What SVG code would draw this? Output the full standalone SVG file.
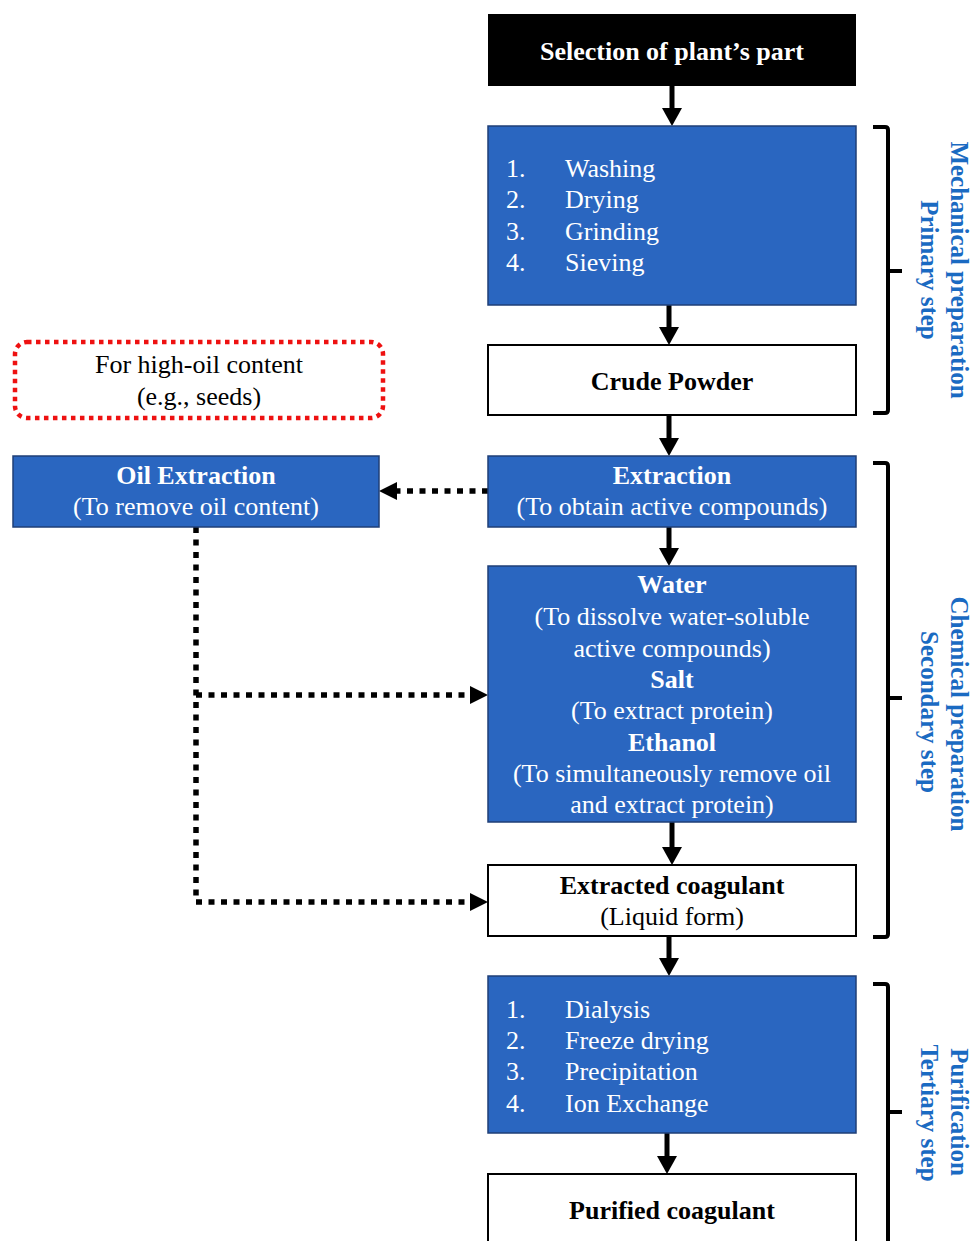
<svg xmlns="http://www.w3.org/2000/svg" width="972" height="1241" viewBox="0 0 972 1241">
<style>
text{font-family:"Liberation Serif","Times New Roman",serif;font-size:26px}
.c{text-anchor:middle}
.b{font-weight:bold}
.w{fill:#ffffff}
.k{fill:#000000}
.blue{fill:#2A66C0;stroke:#1F3F77;stroke-width:1.5}
.white{fill:#ffffff;stroke:#000000;stroke-width:2}
.side{fill:#1A6AC2;font-weight:bold;text-anchor:middle;font-size:25px}
.solid{stroke:#000;stroke-width:5;fill:none}
.dash{stroke:#000;stroke-width:5.5;fill:none;stroke-dasharray:6 6.5}
.brk{stroke:#000;stroke-width:4;fill:none;stroke-linejoin:round}
</style>
<defs>
<marker id="ah" markerUnits="userSpaceOnUse" viewBox="0 0 18 20" refX="8" refY="10" markerWidth="18" markerHeight="20" orient="auto">
<path d="M0,0 L18,10 L0,20 z" fill="#000"/>
</marker>
<marker id="ahd" markerUnits="userSpaceOnUse" viewBox="0 0 18 18" refX="8" refY="9" markerWidth="18" markerHeight="18" orient="auto">
<path d="M0,0 L18,9 L0,18 z" fill="#000"/>
</marker>
</defs>
<rect width="972" height="1241" fill="#ffffff"/>

<g id="connectors">
<line class="solid" x1="672" y1="86" x2="672" y2="116" marker-end="url(#ah)"/>
<line class="solid" x1="669" y1="305" x2="669" y2="335" marker-end="url(#ah)"/>
<line class="solid" x1="669" y1="415" x2="669" y2="446" marker-end="url(#ah)"/>
<line class="solid" x1="669" y1="527" x2="669" y2="556" marker-end="url(#ah)"/>
<line class="solid" x1="672" y1="822" x2="672" y2="855" marker-end="url(#ah)"/>
<line class="solid" x1="669" y1="936" x2="669" y2="966" marker-end="url(#ah)"/>
<line class="solid" x1="667" y1="1133" x2="667" y2="1164" marker-end="url(#ah)"/>
<line class="dash" x1="488" y1="491" x2="389" y2="491" marker-end="url(#ahd)"/>
<path class="dash" d="M196,527 L196,902 L478,902" marker-end="url(#ahd)"/>
<line class="dash" x1="196" y1="695" x2="478" y2="695" marker-end="url(#ahd)"/>
</g>

<g id="node-selection">
<rect x="488" y="14" width="368" height="72" fill="#000"/>
<text class="c b w" x="672" y="60">Selection of plant’s part</text>
</g>

<g id="node-mechanical">
<rect class="blue" x="488" y="126" width="368" height="179"/>
<text class="w" x="506" y="177">1.</text><text class="w" x="565" y="177">Washing</text>
<text class="w" x="506" y="208">2.</text><text class="w" x="565" y="208">Drying</text>
<text class="w" x="506" y="240">3.</text><text class="w" x="565" y="240">Grinding</text>
<text class="w" x="506" y="271">4.</text><text class="w" x="565" y="271">Sieving</text>
</g>

<g id="node-crude">
<rect class="white" x="488" y="345" width="368" height="70"/>
<text class="c b k" x="672" y="390">Crude Powder</text>
</g>

<g id="node-note">
<rect x="15" y="342" width="368" height="76" rx="12" ry="12" fill="none" stroke="#EE1111" stroke-width="4.5" stroke-dasharray="4.5 4.5"/>
<text class="c k" x="199" y="373">For high-oil content</text>
<text class="c k" x="199" y="405">(e.g., seeds)</text>
</g>

<g id="node-extraction">
<rect class="blue" x="488" y="456" width="368" height="71"/>
<text class="c b w" x="672" y="484">Extraction</text>
<text class="c w" x="672" y="515">(To obtain active compounds)</text>
</g>

<g id="node-oil">
<rect class="blue" x="13" y="456" width="366" height="71"/>
<text class="c b w" x="196" y="484">Oil Extraction</text>
<text class="c w" x="196" y="515">(To remove oil content)</text>
</g>

<g id="node-solvents">
<rect class="blue" x="488" y="566" width="368" height="256"/>
<text class="c b w" x="672" y="593">Water</text>
<text class="c w" x="672" y="625">(To dissolve water-soluble</text>
<text class="c w" x="672" y="657">active compounds)</text>
<text class="c b w" x="672" y="688">Salt</text>
<text class="c w" x="672" y="719">(To extract protein)</text>
<text class="c b w" x="672" y="751">Ethanol</text>
<text class="c w" x="672" y="782">(To simultaneously remove oil</text>
<text class="c w" x="672" y="813">and extract protein)</text>
</g>

<g id="node-extracted">
<rect class="white" x="488" y="865" width="368" height="71"/>
<text class="c b k" x="672" y="894">Extracted coagulant</text>
<text class="c k" x="672" y="925">(Liquid form)</text>
</g>

<g id="node-purification">
<rect class="blue" x="488" y="976" width="368" height="157"/>
<text class="w" x="506" y="1018">1.</text><text class="w" x="565" y="1018">Dialysis</text>
<text class="w" x="506" y="1049">2.</text><text class="w" x="565" y="1049">Freeze drying</text>
<text class="w" x="506" y="1080">3.</text><text class="w" x="565" y="1080">Precipitation</text>
<text class="w" x="506" y="1112">4.</text><text class="w" x="565" y="1112">Ion Exchange</text>
</g>

<g id="node-purified">
<rect class="white" x="488" y="1174" width="368" height="100"/>
<text class="c b k" x="672" y="1219">Purified coagulant</text>
</g>

<g id="bracket-primary">
<path class="brk" d="M873,127 L885,127 Q888,127 888,130 L888,410 Q888,413 885,413 L873,413 M888,271 L902,271"/>
<text class="side" transform="translate(951,270) rotate(90)">Mechanical preparation</text>
<text class="side" transform="translate(921,270) rotate(90)">Primary step</text>
</g>

<g id="bracket-secondary">
<path class="brk" d="M873,463 L885,463 Q888,463 888,466 L888,934 Q888,937 885,937 L873,937 M888,698 L902,698"/>
<text class="side" transform="translate(951,714) rotate(90)">Chemical preparation</text>
<text class="side" transform="translate(921,712) rotate(90)">Secondary step</text>
</g>

<g id="bracket-tertiary">
<path class="brk" d="M873,984 L885,984 Q888,984 888,987 L888,1250 M888,1112 L902,1112"/>
<text class="side" transform="translate(951,1112) rotate(90)">Purification</text>
<text class="side" transform="translate(921,1113) rotate(90)">Tertiary step</text>
</g>
</svg>
